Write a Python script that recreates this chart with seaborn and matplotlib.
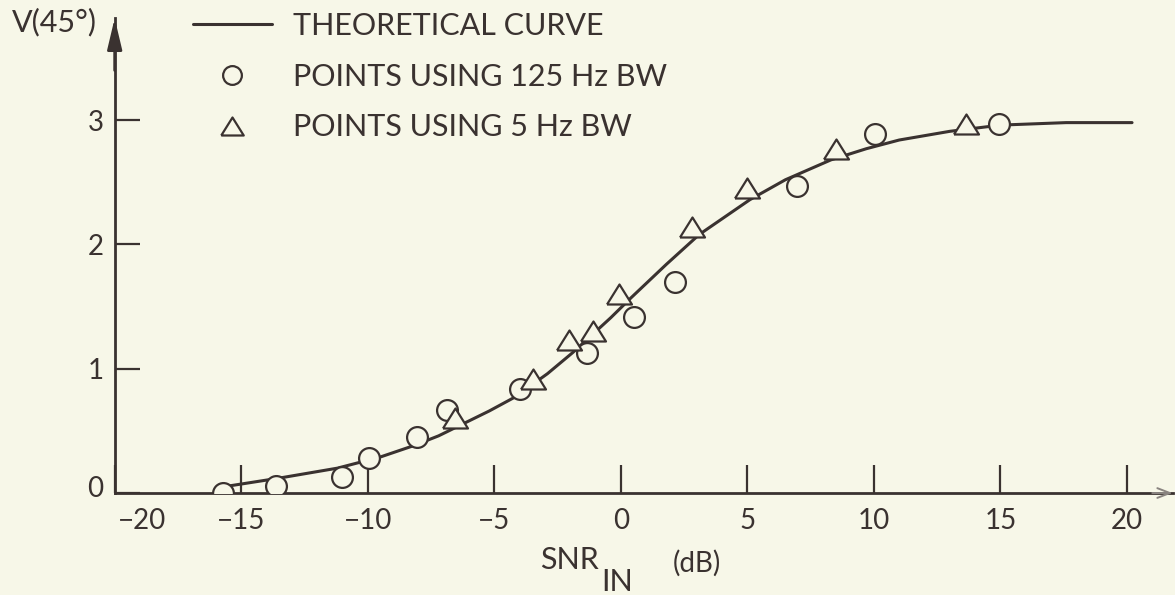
import matplotlib
matplotlib.use("Agg")
import matplotlib.pyplot as plt
import seaborn as sns
from matplotlib.transforms import ScaledTranslation

# ---------------- data ----------------
curve_x = [-15.7, -13.5, -11.2, -9.5, -8.2, -7.2, -6.2, -5.2, -4.2, -2.9, -1.9,
           -0.4, 0.4, 1.8, 3.1, 4.1, 5.1, 6.5, 8.3, 9.7, 11.0, 13.0, 15.0,
           17.6, 20.2]
curve_y = [0.05, 0.12, 0.20, 0.29, 0.38, 0.46, 0.56, 0.66, 0.77, 0.96, 1.13,
           1.41, 1.57, 1.84, 2.08, 2.22, 2.36, 2.52, 2.68, 2.77, 2.84, 2.91,
           2.96, 2.98, 2.98]

bw125_x = [-15.73, -13.63, -11.01, -9.94, -8.07, -6.88, -3.99, -1.33, 0.52,
           2.15, 6.95, 10.04, 14.94]
bw125_y = [0.00, 0.06, 0.13, 0.28, 0.45, 0.67, 0.84, 1.13, 1.42, 1.70, 2.47,
           2.89, 2.97]

bw5_x = [-6.55, -3.47, -2.04, -1.11, -0.06, 2.82, 4.97, 8.52, 13.62]
bw5_y = [0.60, 0.92, 1.23, 1.30, 1.60, 2.14, 2.45, 2.77, 2.97]

x_ticks = [-20, -15, -10, -5, 0, 5, 10, 15, 20]
x_tick_labels = ["\u221220", "\u221215", "\u221210", "\u22125", "0", "5", "10", "15", "20"]
y_ticks = [0, 1, 2, 3]
y_tick_labels = ["0", "1", "2", "3"]
legend_labels = ["THEORETICAL CURVE", "POINTS USING 125 Hz BW", "POINTS USING 5 Hz BW"]
y_title = "V(45\u00b0)"

# ---------------- style ----------------
sns.set_theme(style="ticks")
plt.rcParams["font.family"] = ["Lato", "DejaVu Sans"]
INK = "#3a3230"
BG = "#f7f7e8"

W, H = 1175, 595
fig = plt.figure(figsize=(W / 100, H / 100), dpi=100, facecolor=BG)
ax = fig.add_axes([0.0976, 0.1714, 0.9003, 0.798])
ax.set_facecolor(BG)

sns.lineplot(x=curve_x, y=curve_y, ax=ax, color=INK, linewidth=2.2,
             sort=False, estimator=None, label=legend_labels[0], zorder=2)
sns.lineplot(x=bw125_x, y=bw125_y, ax=ax, color=INK, marker="o", linestyle="none",
             markersize=15, markerfacecolor=BG, markeredgecolor=INK,
             markeredgewidth=1.6, sort=False, estimator=None,
             label=legend_labels[1], zorder=3)
tri = [(-1, -0.8), (1, -0.8), (0, 0.8), (-1, -0.8)]
sns.lineplot(x=bw5_x, y=bw5_y, ax=ax, color=INK, marker=tri, linestyle="none",
             markersize=18, markerfacecolor=BG, markeredgecolor=INK,
             markeredgewidth=1.6, sort=False, estimator=None,
             label=legend_labels[2], zorder=3)

ax.set_xlim(-20, 21.8)
ax.set_ylim(0, 3.82)
ax.set_xticks(x_ticks, labels=x_tick_labels)
ax.set_yticks(y_ticks, labels=y_tick_labels)
ax.set_xlabel("")
ax.set_ylabel("")

for s in ["top", "right"]:
    ax.spines[s].set_visible(False)
for s in ["left", "bottom"]:
    ax.spines[s].set_color(INK)
    ax.spines[s].set_linewidth(2.0)

ax.tick_params(axis="x", direction="in", length=20, width=1.6, color=INK,
               pad=11, labelsize=20, labelcolor=INK)
ax.tick_params(axis="y", direction="in", length=18, width=1.6, color=INK,
               pad=8, labelsize=20, labelcolor=INK)

# shift the -20 label right of the vertical axis, lift the 0 label a little
lab = ax.get_xticklabels()[0]
lab.set_transform(lab.get_transform() + ScaledTranslation(0.27, 0, fig.dpi_scale_trans))
lab0 = ax.get_yticklabels()[0]
lab0.set_transform(lab0.get_transform() + ScaledTranslation(0, 0.07, fig.dpi_scale_trans))

# axis arrowheads
ax.annotate("", xy=(-20, 3.82), xytext=(-20, 3.4),
            arrowprops=dict(arrowstyle="-|>,head_length=1.9,head_width=0.45",
                            color=INK, lw=2.0, shrinkA=0, shrinkB=0,
                            mutation_scale=10),
            annotation_clip=False)
ax.annotate("", xy=(21.8, 0), xytext=(21.0, 0),
            arrowprops=dict(arrowstyle="->,head_length=0.9,head_width=0.35",
                            color="#8a8480", lw=1.4, shrinkA=0, shrinkB=0,
                            mutation_scale=10),
            annotation_clip=False)

# legend
leg = ax.legend(loc="upper left", bbox_to_anchor=(193 / W, 1 - 12 / H),
                bbox_transform=fig.transFigure, frameon=False, fontsize=22,
                handlelength=2.58, handletextpad=0.69, labelspacing=0.74,
                markerscale=0.9, borderpad=0, borderaxespad=0)
for t in leg.get_texts():
    t.set_color(INK)

# axis titles
def ftext(px, py, s, **kw):
    fig.text(px / W, 1 - py / H, s, color=INK, va="center", **kw)

ftext(54, 22, y_title, ha="center", fontsize=22)
ftext(569, 560, "SNR", ha="center", fontsize=22)
ftext(617, 582, "IN", ha="center", fontsize=22)
ftext(697, 563, "(dB)", ha="center", fontsize=20)

fig.savefig("out.png", dpi=100, facecolor=BG)
